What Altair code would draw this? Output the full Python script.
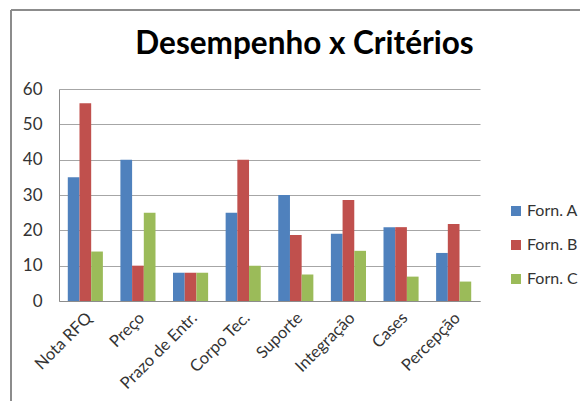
import altair as alt
import pandas as pd

categories = ["Nota RFQ", "Preço", "Prazo de Entr.", "Corpo Tec.", "Suporte", "Integração", "Cases", "Percepção"]
series = ["Forn. A", "Forn. B", "Forn. C"]
forn_a = [35, 40, 8, 25, 30, 19, 20.9, 13.6]
forn_b = [56, 10, 8, 40, 18.7, 28.6, 20.9, 21.8]
forn_c = [14, 25, 8, 10, 7.5, 14.2, 6.9, 5.5]
colors = ["#4F81BD", "#C0504D", "#9BBB59"]

rows = []
for name, vals in zip(series, [forn_a, forn_b, forn_c]):
    for c, v in zip(categories, vals):
        rows.append({"criterio": c, "forn": name, "valor": v})
df = pd.DataFrame(rows)

FONT = "Lato"

bars = alt.Chart(df).mark_bar().encode(
    x=alt.X("criterio:N", sort=categories,
            scale=alt.Scale(paddingInner=0.333, paddingOuter=0.167),
            axis=alt.Axis(title=None, labelAngle=-45, labelAlign="right", labelBaseline="middle",
                          labelFontSize=16.5, labelColor="#333333", labelFont=FONT,
                          ticks=False, labelPadding=14, labelOffset=4,
                          domainColor="#8c8c8c", grid=False)),
    xOffset=alt.XOffset("forn:N", sort=series, scale=alt.Scale(paddingInner=0, paddingOuter=0)),
    y=alt.Y("valor:Q", scale=alt.Scale(domain=[0, 60]),
            axis=alt.Axis(title=None, values=[0, 10, 20, 30, 40, 50, 60], labelFontSize=17,
                          labelColor="#333333", labelFont=FONT, ticks=False, labelPadding=17,
                          domainColor="#8c8c8c", gridColor="#a6a6a6", gridWidth=1.2)),
    color=alt.Color("forn:N", sort=series, scale=alt.Scale(domain=series, range=colors),
                    legend=alt.Legend(title=None, orient="none", legendX=449, legendY=114,
                                      symbolType="square", symbolSize=100, symbolStrokeWidth=0,
                                      labelFontSize=16, labelFont=FONT, labelColor="#333333",
                                      rowPadding=18, padding=0, labelOffset=3)),
)

frame_df = pd.DataFrame({"a": [0]})
top_line = alt.Chart(frame_df).mark_rule(color="#8c8c8c", strokeWidth=2).encode(
    x=alt.value(-48), x2=alt.value(521), y=alt.value(-79))
left_line = alt.Chart(frame_df).mark_rule(color="#8c8c8c", strokeWidth=2).encode(
    x=alt.value(-48), y=alt.value(-79), y2=alt.value(312))

chart = alt.layer(bars, top_line, left_line).properties(
    width=421, height=212,
    padding={"left": 51, "top": 81, "right": 100, "bottom": 100},
    autosize=alt.AutoSizeParams(type="none"),
    title=alt.TitleParams("Desempenho x Critérios", fontSize=31.5, font=FONT, fontWeight="bold",
                          color="#000000", anchor="middle", dx=35, offset=-76,
                          baseline="alphabetic"),
).configure_view(stroke=None)

chart.save("out.html", embed_options={"renderer": "svg", "actions": False})
